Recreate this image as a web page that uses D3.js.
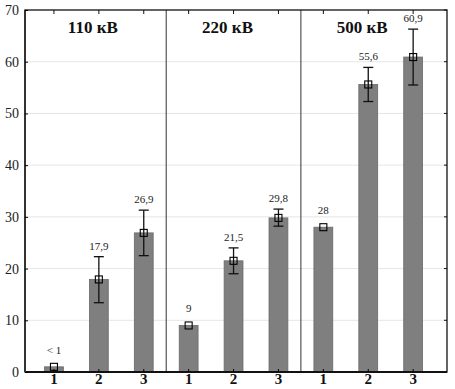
<!DOCTYPE html>
<html><head><meta charset="utf-8">
<script src="https://cdn.jsdelivr.net/npm/d3@7"></script>
<style>body{margin:0;background:#fff}</style>
</head><body>
<script>
const groups = ["110 кВ", "220 кВ", "500 кВ"];
const catLabels = ["1", "2", "3"];
const values = [1, 17.9, 26.9, 9, 21.5, 29.8, 28, 55.6, 60.9];
const valueLabels = ["< 1", "17,9", "26,9", "9", "21,5", "29,8", "28", "55,6", "60,9"];
const errLow = [null, 13.4, 22.5, null, 19.0, 28.2, null, 52.3, 55.5];
const errHigh = [null, 22.3, 31.3, null, 24.0, 31.5, null, 58.9, 66.3];
const yTicks = [0, 10, 20, 30, 40, 50, 60, 70];

(function(){
const W = 455, H = 389;
const pL = 25, pR = 447, pT = 10, pB = 372;
const FF = '"Liberation Serif"';
const svg = d3.select("body").append("svg").attr("width", W).attr("height", H);

const idx = d3.range(values.length);
const x = d3.scaleBand().domain(idx).range([31.5, 435.6]).paddingInner(0.58).paddingOuter(0.29);
const y = d3.scaleLinear().domain([0, 70]).range([pB, pT]);

// gridlines
svg.append("g").selectAll("line").data(yTicks.slice(1, -1)).join("line")
  .attr("x1", pL).attr("x2", pR).attr("y1", d => y(d)).attr("y2", d => y(d))
  .attr("stroke", "#e6e6e6").attr("stroke-width", 1);

// dividers
const dividers = [2.5, 5.5];
const step = x.step();
const cx = i => x(i) + x.bandwidth() / 2;
svg.append("g").selectAll("line").data(dividers).join("line")
  .attr("x1", d => cx(Math.floor(d)) + step / 2).attr("x2", d => cx(Math.floor(d)) + step / 2)
  .attr("y1", pT).attr("y2", pB).attr("stroke", "#333").attr("stroke-width", 1);

// bars
svg.append("g").selectAll("rect").data(idx).join("rect")
  .attr("x", i => x(i)).attr("width", x.bandwidth())
  .attr("y", i => y(values[i])).attr("height", i => y(0) - y(values[i]))
  .attr("fill", "#7f7f7f").attr("stroke", "#6a6a6a").attr("stroke-width", 0.8);

// error bars
const eb = idx.filter(i => errLow[i] !== null);
const g = svg.append("g").attr("stroke", "#111").attr("stroke-width", 1.3);
g.selectAll(".v").data(eb).join("line").attr("class", "v")
  .attr("x1", cx).attr("x2", cx).attr("y1", i => y(errLow[i])).attr("y2", i => y(errHigh[i]));
g.selectAll(".t").data(eb).join("line").attr("class", "t")
  .attr("x1", i => cx(i) - 5).attr("x2", i => cx(i) + 5).attr("y1", i => y(errHigh[i])).attr("y2", i => y(errHigh[i]));
g.selectAll(".b").data(eb).join("line").attr("class", "b")
  .attr("x1", i => cx(i) - 5).attr("x2", i => cx(i) + 5).attr("y1", i => y(errLow[i])).attr("y2", i => y(errLow[i]));

// markers
svg.append("g").selectAll("rect").data(idx).join("rect")
  .attr("x", i => cx(i) - 3.5).attr("y", i => y(values[i]) - 3.5)
  .attr("width", 7).attr("height", 7)
  .attr("fill", "none").attr("stroke", "#000").attr("stroke-width", 1.1);

// value labels
svg.append("g").selectAll("text").data(idx).join("text")
  .attr("x", cx)
  .attr("y", i => y(errHigh[i] !== null ? errHigh[i] : values[i]) - (errHigh[i] !== null ? 7 : 13))
  .attr("text-anchor", "middle")
  .style("font-family", FF).attr("font-size", 11).attr("fill", "#222")
  .text(i => valueLabels[i]);

// group titles
svg.append("g").selectAll("text").data(groups).join("text")
  .attr("x", (d, k) => cx(k * 3 + 1) - 6).attr("y", 33)
  .attr("text-anchor", "middle")
  .style("font-family", FF).attr("font-weight", "bold").attr("font-size", 17).attr("fill", "#111")
  .text(d => d);

// frame
svg.append("rect").attr("x", pL).attr("y", pT).attr("width", pR - pL).attr("height", pB - pT)
  .attr("fill", "none").attr("stroke", "#111").attr("stroke-width", 1.3);
svg.append("line").attr("x1", pL).attr("x2", pR).attr("y1", pB).attr("y2", pB)
  .attr("stroke", "#111").attr("stroke-width", 2);
svg.append("line").attr("x1", pL).attr("x2", pL).attr("y1", pT).attr("y2", pB)
  .attr("stroke", "#333").attr("stroke-width", 2);

// left axis
const yAxis = svg.append("g").attr("transform", `translate(${pL},0)`)
  .call(d3.axisLeft(y).tickValues(yTicks).tickSize(-3).tickFormat(d3.format("d")));
yAxis.select(".domain").remove();
yAxis.selectAll("text").style("font-family", FF).attr("font-size", 14).attr("fill", "#222").attr("x", -6);
// right ticks inward
svg.append("g").selectAll("line").data(yTicks).join("line")
  .attr("x1", pR - 3).attr("x2", pR).attr("y1", d => y(d)).attr("y2", d => y(d)).attr("stroke", "#111");
// top ticks
svg.append("g").selectAll("line").data(idx).join("line")
  .attr("x1", cx).attr("x2", cx).attr("y1", pT).attr("y2", pT + 4).attr("stroke", "#111");

// bottom axis
const xAxis = svg.append("g").attr("transform", `translate(0,${pB})`)
  .call(d3.axisBottom(x).tickSize(-3).tickFormat(i => catLabels[i % 3]));
xAxis.select(".domain").remove();
xAxis.selectAll("text").style("font-family", FF).attr("font-weight", "bold")
  .attr("font-size", 15).attr("fill", "#111").attr("dy", "0.55em").attr("y", 4);
})();
</script>
</body></html>
